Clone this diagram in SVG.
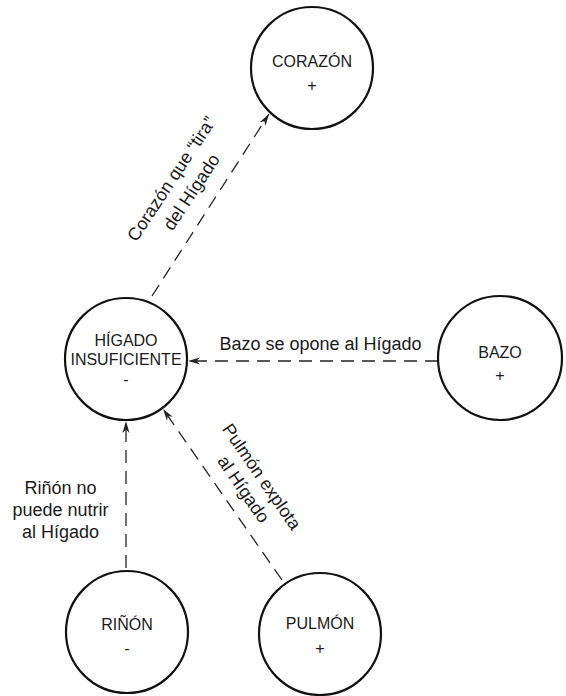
<svg xmlns="http://www.w3.org/2000/svg" width="566" height="696" viewBox="0 0 566 696">
<style>
.node circle{fill:#fff;stroke:#111;stroke-width:2.2}
.nt{font-family:"Liberation Sans",Arial,sans-serif;font-size:16px;fill:#1a1a1a;text-anchor:middle}
.lt{font-family:"Liberation Sans",Arial,sans-serif;font-size:18px;fill:#1a1a1a;text-anchor:middle}
.edge{fill:none;stroke:#222;stroke-width:1.3;stroke-dasharray:13 8}
</style>
<defs>
<marker id="arr" viewBox="0 0 12 8" refX="12" refY="4" markerWidth="12" markerHeight="8" markerUnits="userSpaceOnUse" orient="auto">
<path d="M0,0.5 L12,4 L0,7.5 L3.5,4 Z" fill="#222"/>
</marker>
</defs>
<rect width="566" height="696" fill="#fff"/>
<g id="connectors">
<line class="edge" x1="152" y1="296" x2="269" y2="114" marker-end="url(#arr)"/>
<line class="edge" x1="438" y1="361" x2="188" y2="361" marker-end="url(#arr)"/>
<line class="edge" x1="126" y1="568" x2="126" y2="421" marker-end="url(#arr)"/>
<line class="edge" x1="282" y1="580" x2="163" y2="409" marker-end="url(#arr)"/>
</g>
<g id="labels">
<g transform="translate(181.5,185.5) rotate(-56.5)">
<text class="lt" x="0" y="-6">Corazón que “tira”</text>
<text class="lt" x="0" y="18">del Hígado</text>
</g>
<text class="lt" x="320.5" y="350">Bazo se opone al Hígado</text>
<text class="lt" x="60.5" y="494">Riñón no</text>
<text class="lt" x="60.5" y="516">puede nutrir</text>
<text class="lt" x="60.5" y="538">al Hígado</text>
<g transform="translate(252.5,483) rotate(55.4)">
<text class="lt" x="0" y="-5">Pulmón explota</text>
<text class="lt" x="0" y="17">al Hígado</text>
</g>
</g>
<g id="corazon" class="node">
<circle cx="312" cy="68" r="61"/>
<text class="nt" x="312" y="67">CORAZÓN</text>
<text class="nt" x="312" y="91">+</text>
</g>
<g id="higado" class="node">
<circle cx="126" cy="359" r="61"/>
<text class="nt" x="126" y="346">HÍGADO</text>
<text class="nt" x="126" y="365">INSUFICIENTE</text>
<text class="nt" x="126" y="385">-</text>
</g>
<g id="bazo" class="node">
<circle cx="500" cy="358" r="62"/>
<text class="nt" x="500" y="358">BAZO</text>
<text class="nt" x="500" y="381">+</text>
</g>
<g id="rinon" class="node">
<circle cx="127" cy="632" r="61"/>
<text class="nt" x="127" y="630">RIÑÓN</text>
<text class="nt" x="127" y="654">-</text>
</g>
<g id="pulmon" class="node">
<circle cx="320" cy="634" r="61"/>
<text class="nt" x="320" y="629">PULMÓN</text>
<text class="nt" x="320" y="654">+</text>
</g>
</svg>
